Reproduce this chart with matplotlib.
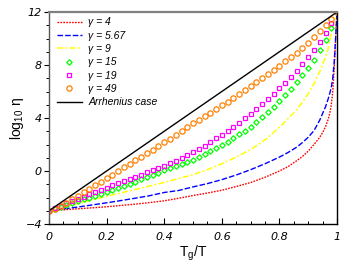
import numpy as np
import matplotlib
matplotlib.use("Agg")
import matplotlib.pyplot as plt
from matplotlib.ticker import MultipleLocator

# Arrhenius reference line
x_arr = [0.0, 1.0]
y_arr = [-3.0, 12.0]

# gamma = 4 (red dotted)
x_g4 = [0.00, 0.05, 0.10, 0.15, 0.20, 0.25, 0.30, 0.35, 0.40, 0.45, 0.50, 0.55,
        0.60, 0.65, 0.70, 0.75, 0.80, 0.83, 0.86, 0.88, 0.90, 0.92, 0.94, 0.95,
        0.96, 0.97, 0.975, 0.98, 0.985, 0.99, 0.993, 0.996, 1.00]
y_g4 = [-3.00, -2.93, -2.85, -2.78, -2.70, -2.60, -2.50, -2.38, -2.25, -2.06, -1.85, -1.66,
        -1.45, -1.17, -0.87, -0.47, 0.00, 0.33, 0.78, 1.10, 1.50, 2.00, 2.55, 2.90,
        3.35, 3.95, 4.40, 5.00, 6.00, 7.70, 9.00, 10.60, 12.00]

# gamma = 5.67 (blue dashed)
x_g567 = [0.00, 0.05, 0.10, 0.15, 0.20, 0.25, 0.30, 0.35, 0.40, 0.45, 0.50, 0.55,
          0.60, 0.65, 0.70, 0.75, 0.80, 0.83, 0.86, 0.88, 0.90, 0.92, 0.94, 0.95,
          0.96, 0.97, 0.98, 0.985, 0.99, 0.995, 1.00]
y_g567 = [-3.00, -2.86, -2.72, -2.56, -2.40, -2.23, -2.05, -1.86, -1.62, -1.47, -1.20, -0.95,
          -0.65, -0.30, 0.10, 0.55, 1.05, 1.40, 1.80, 2.15, 2.55, 3.05, 3.85, 4.35,
          4.85, 5.50, 6.30, 7.00, 8.20, 10.00, 12.00]

# gamma = 9 (yellow dash-dot)
x_g9 = [0.00, 0.05, 0.10, 0.15, 0.20, 0.25, 0.30, 0.35, 0.40, 0.45, 0.50, 0.55,
        0.60, 0.65, 0.70, 0.75, 0.80, 0.83, 0.86, 0.88, 0.90, 0.92, 0.94, 0.96,
        0.97, 0.98, 0.99, 1.00]
y_g9 = [-3.00, -2.72, -2.45, -2.18, -1.91, -1.65, -1.39, -1.13, -0.86, -0.57, -0.27, 0.10,
        0.55, 1.05, 1.62, 2.35, 3.30, 3.95, 4.65, 5.20, 5.85, 6.60, 7.50, 8.60,
        9.30, 10.40, 11.20, 12.00]

# marker series, sampled every 0.02
x_pts = [0.00, 0.02, 0.04, 0.06, 0.08, 0.10, 0.12, 0.14, 0.16, 0.18, 0.20, 0.22, 0.24,
         0.26, 0.28, 0.30, 0.32, 0.34, 0.36, 0.38, 0.40, 0.42, 0.44, 0.46, 0.48, 0.50,
         0.52, 0.54, 0.56, 0.58, 0.60, 0.62, 0.64, 0.66, 0.68, 0.70, 0.72, 0.74, 0.76,
         0.78, 0.80, 0.82, 0.84, 0.86, 0.88, 0.90, 0.92, 0.94, 0.96, 0.98, 1.00]

y_g15 = [-3.00, -2.86, -2.72, -2.58, -2.44, -2.30, -2.15, -2.00, -1.85, -1.70, -1.55, -1.40, -1.25,
         -1.10, -0.95, -0.80, -0.63, -0.46, -0.29, -0.12, 0.05, 0.20, 0.36, 0.52, 0.68, 0.85,
         1.05, 1.26, 1.48, 1.71, 1.95, 2.21, 2.48, 2.76, 3.05, 3.35, 3.70, 4.06, 4.43,
         4.84, 5.30, 5.75, 6.22, 6.70, 7.22, 7.80, 8.40, 9.10, 9.90, 10.80, 12.00]

y_g19 = [-3.00, -2.80, -2.62, -2.44, -2.27, -2.10, -1.93, -1.76, -1.59, -1.42, -1.25, -1.09, -0.93,
         -0.77, -0.61, -0.45, -0.28, -0.11, 0.06, 0.23, 0.40, 0.59, 0.78, 0.98, 1.19, 1.40,
         1.65, 1.91, 2.18, 2.46, 2.75, 3.04, 3.34, 3.65, 3.97, 4.30, 4.66, 5.03, 5.42,
         5.83, 6.25, 6.67, 7.10, 7.55, 8.05, 8.60, 9.15, 9.75, 10.40, 11.15, 12.00]

y_g49 = [-3.00, -2.85, -2.65, -2.40, -2.15, -1.88, -1.62, -1.36, -1.09, -0.82, -0.55, -0.28, 0.00,
         0.27, 0.54, 0.81, 1.08, 1.35, 1.62, 1.89, 2.16, 2.45, 2.74, 3.03, 3.32, 3.60,
         3.87, 4.14, 4.41, 4.68, 4.95, 5.24, 5.53, 5.82, 6.11, 6.40, 6.71, 7.02, 7.33,
         7.64, 7.95, 8.27, 8.59, 8.93, 9.30, 9.68, 10.10, 10.55, 11.00, 11.50, 12.00]

fig = plt.figure(figsize=(3.45, 2.71), dpi=100)
ax = fig.add_axes([0.142, 0.1734, 0.835, 0.7823])

ax.plot(x_g4, y_g4, color='#ff0000', lw=1.0, ls=(0, (1.2, 0.9)), label='γ = 4')
ax.plot(x_g567, y_g567, color='#0000ff', lw=1.0, ls=(0, (4, 1.5)), label='γ = 5.67')
ax.plot(x_g9, y_g9, color='#ffff00', lw=1.1, ls=(0, (4, 1.5, 1.2, 1.5)), label='γ = 9')
ax.plot(x_pts, y_g15, ls='none', marker='D', ms=2.8, mfc='none', mec='#00ff00', mew=0.9,
        label='γ = 15')
ax.plot(x_pts, y_g19, ls='none', marker='s', ms=3.3, mfc='none', mec='#ff00ff', mew=0.9,
        label='γ = 19')
ax.plot(x_pts, y_g49, ls='none', marker='o', ms=3.8, mfc='none', mec='#ff8000', mew=0.9,
        label='γ = 49')
ax.plot(x_arr, y_arr, color='black', lw=1.0, label='Arrhenius case')

ax.set_xlim(0, 1)
ax.set_ylim(-4, 12)
ax.xaxis.set_major_locator(MultipleLocator(0.2))
ax.xaxis.set_minor_locator(MultipleLocator(0.05))
ax.yaxis.set_major_locator(MultipleLocator(4))
ax.yaxis.set_minor_locator(MultipleLocator(1))
ax.set_xticks([0, 0.2, 0.4, 0.6, 0.8, 1.0])
ax.set_xticklabels(['0', '0.2', '0.4', '0.6', '0.8', '1'])

ax.tick_params(axis='x', which='both', direction='in', pad=6, labelsize=8)
ax.tick_params(axis='x', which='major', length=4, width=0.8)
ax.tick_params(axis='x', which='minor', length=2, width=0.7)
ax.tick_params(axis='y', which='both', direction='out', pad=1.5, labelsize=8)
ax.tick_params(axis='y', which='major', length=3.5, width=0.8)
ax.tick_params(axis='y', which='minor', length=2, width=0.7)
for lab in ax.get_xticklabels() + ax.get_yticklabels():
    lab.set_fontstyle('italic')

ax.spines['top'].set_color('#808080')
ax.spines['top'].set_linewidth(1.6)
ax.spines['left'].set_color('#555555')
ax.spines['left'].set_linewidth(1.0)
ax.spines['bottom'].set_linewidth(1.0)
ax.spines['right'].set_linewidth(1.0)

ax.set_xlabel(r'$\mathregular{T_g/T}$', fontsize=10, family='Liberation Sans', labelpad=1)
ax.set_ylabel(r'$\mathregular{log_{10}\ \eta}$', fontsize=10, family='Liberation Sans', labelpad=0)

leg = ax.legend(loc='upper left', bbox_to_anchor=(0.02, 0.985), frameon=False, numpoints=1,
                prop={'family': 'Liberation Sans', 'style': 'italic', 'size': 7.5},
                handlelength=2.4, handletextpad=0.6, labelspacing=0.32,
                borderpad=0.2, borderaxespad=0)

fig.savefig('out.png', dpi=100)
